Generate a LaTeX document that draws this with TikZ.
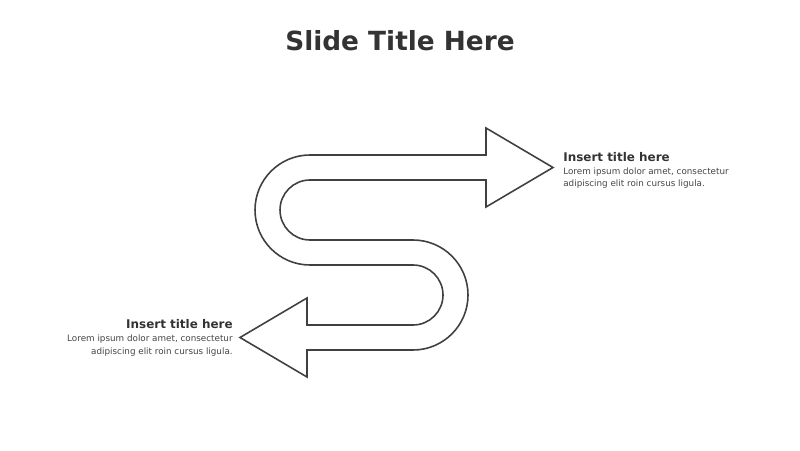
\documentclass[tikz,border=0pt]{standalone}
\usepackage{fontspec}
\setmainfont{DejaVu Sans}
\usepackage{xcolor}
\definecolor{inkgray}{HTML}{333333}
\definecolor{linegray}{HTML}{404040}
\definecolor{textgray}{HTML}{444444}
\tikzset{
    headtext/.style={font=\bfseries\fontsize{6.8}{8}\selectfont, text=inkgray, inner sep=0pt},
    bodytext/.style={font=\fontsize{5}{7.1}\selectfont, text=textgray, inner sep=0pt}
}

\begin{document}
\begin{tikzpicture}[x=0.02cm, y=0.02cm]

    \useasboundingbox (0,0) rectangle (800,450);

    % Slide title
    \node[font=\bfseries\fontsize{15}{18}\selectfont, text=inkgray, anchor=base] (title) at (400,399) {Slide Title Here};

    % S-shaped arrow outline
    \draw[linegray, line width=0.9pt, line join=miter]
        (310,295) -- (486,295) -- (486,322) -- (553,282.5) -- (486,243) -- (486,270)
        -- (310,270) arc (90:270:30) -- (413,210) arc (90:-90:55)
        -- (307,100) -- (307,73) -- (240,112.5) -- (307,152) -- (307,125)
        -- (413,125) arc (-90:90:30) -- (310,185) arc (270:90:55) -- cycle;

    % Upper label
    \node[headtext, anchor=base west] (uphead) at (563,288.3) {Insert title here};
    \node[bodytext, anchor=base west, align=left] (upbody) at (563,263)
        {Lorem ipsum dolor amet, consectetur\\adipiscing elit roin cursus ligula.};

    % Lower label
    \node[headtext, anchor=base east] (lowhead) at (233,121.7) {Insert title here};
    \node[bodytext, anchor=base east, align=right] (lowbody) at (233,96)
        {Lorem ipsum dolor amet, consectetur\\adipiscing elit roin cursus ligula.};

\end{tikzpicture}
\end{document}
